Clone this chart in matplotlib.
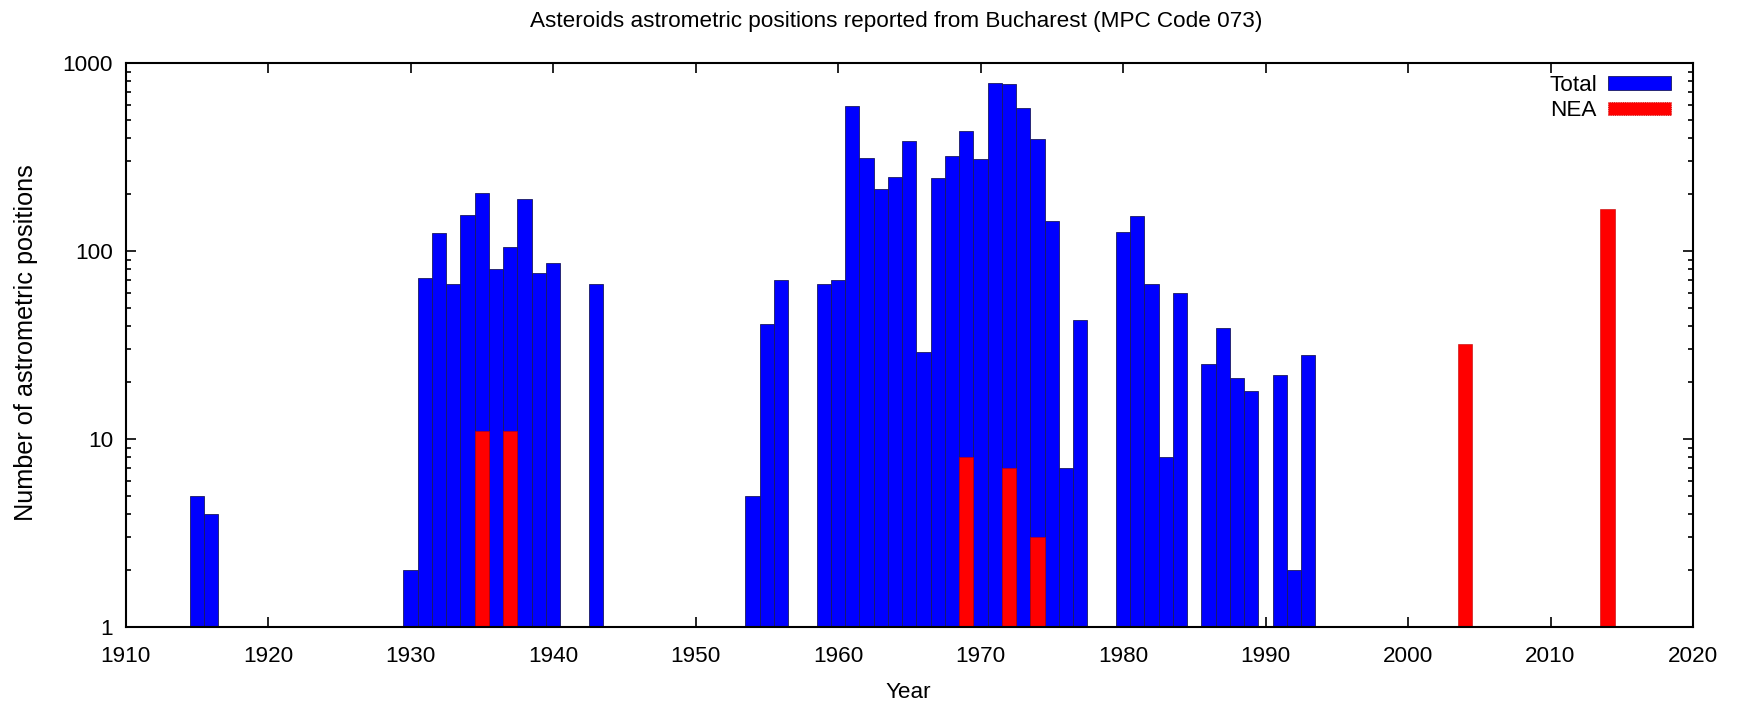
import matplotlib
matplotlib.use("Agg")
import matplotlib.pyplot as plt
from matplotlib.patches import Rectangle
from matplotlib.ticker import FixedLocator, FixedFormatter, LogLocator, NullFormatter, NullLocator

plt.rcParams['font.family'] = ['Liberation Sans', 'DejaVu Sans']

# ---- data ----
total_years = [1915, 1916,
               1930, 1931, 1932, 1933, 1934, 1935, 1936, 1937, 1938, 1939, 1940,
               1943,
               1954, 1955, 1956,
               1959, 1960, 1961, 1962, 1963, 1964, 1965, 1966, 1967, 1968, 1969,
               1970, 1971, 1972, 1973, 1974, 1975, 1976, 1977,
               1980, 1981, 1982, 1983, 1984,
               1986, 1987, 1988, 1989,
               1991, 1992, 1993]
total_counts = [5, 4,
                2, 72, 125, 67, 155, 204, 80, 105, 188, 76, 86,
                67,
                5, 41, 70,
                67, 70, 590, 314, 213, 249, 387, 29, 245, 319, 433,
                309, 781, 777, 576, 396, 144, 7, 43,
                126, 154, 67, 8, 60,
                25, 39, 21, 18,
                22, 2, 28]

nea_years = [1935, 1937, 1969, 1972, 1974, 2004, 2014]
nea_counts = [11, 11, 8, 7, 3, 32, 167]

x_ticks = [1910, 1920, 1930, 1940, 1950, 1960, 1970, 1980, 1990, 2000, 2010, 2020]
y_ticks = [1, 10, 100, 1000]
y_tick_labels = ["1", "10", "100", "1000"]

title = "Asteroids astrometric positions reported from Bucharest (MPC Code 073)"
xlabel = "Year"
ylabel = "Number of astrometric positions"
series_names = ["Total", "NEA"]

# ---- figure ----
W, H = 1741, 704
fs = 16.2
fig = plt.figure(figsize=(W / 100, H / 100), dpi=100)
ax_l, ax_r, ax_t, ax_b = 125.5, 1693, 63, 627
ax = fig.add_axes([ax_l / W, 1 - ax_b / H, (ax_r - ax_l) / W, (ax_b - ax_t) / H])

blue = "#0000ff"
red = "#ff0000"

ax.set_yscale('log')
ax.bar(total_years, total_counts, width=1.0, color=blue,
       edgecolor="#1a1a60", linewidth=0.6, zorder=2)
ax.bar(nea_years, nea_counts, width=1.0, color=red,
       edgecolor="#c00000", linewidth=0.4, zorder=3)

ax.set_xlim(1910, 2020)
ax.set_ylim(1, 1000)

ax.xaxis.set_major_locator(FixedLocator(x_ticks))
ax.xaxis.set_minor_locator(NullLocator())
ax.yaxis.set_major_locator(FixedLocator(y_ticks))
ax.yaxis.set_major_formatter(FixedFormatter(y_tick_labels))
ax.yaxis.set_minor_locator(LogLocator(base=10, subs=range(2, 10)))
ax.yaxis.set_minor_formatter(NullFormatter())

ax.tick_params(which='both', direction='in', top=True, right=True,
               labelsize=fs, colors='#000000', width=1.2)
ax.tick_params(which='major', length=7)
ax.tick_params(which='minor', length=3.5)
ax.tick_params(axis='x', which='major', pad=14)
ax.tick_params(axis='y', which='major', pad=9)
for sp in ax.spines.values():
    sp.set_linewidth(1.5)
    sp.set_zorder(5)

fig.text(908 / W, 1 - 693 / H, xlabel, ha='center', va='center', fontsize=fs)
fig.text(26 / W, 1 - 343 / H, ylabel, ha='center', va='center', fontsize=18.2, rotation=90)
fig.text(896 / W, 1 - 21 / H, title, ha='center', va='center', fontsize=fs)

handles = [Rectangle((0, 0), 1, 1, facecolor=blue, edgecolor="#1a1a60", linewidth=0.6),
           Rectangle((0, 0), 1, 1, facecolor=red, edgecolor="#c00000", linewidth=0.6, linestyle=':')]
leg = ax.legend(handles, series_names, loc='upper right', frameon=False,
                bbox_to_anchor=((1680 - ax_l) / (ax_r - ax_l), 1.0 - 3.0 / (ax_b - ax_t)),
                markerfirst=False, fontsize=fs, handlelength=2.8, handleheight=0.55,
                handletextpad=0.5, labelspacing=0.2, borderaxespad=0.0, borderpad=0.4)

fig.savefig("out.png", dpi=100)
